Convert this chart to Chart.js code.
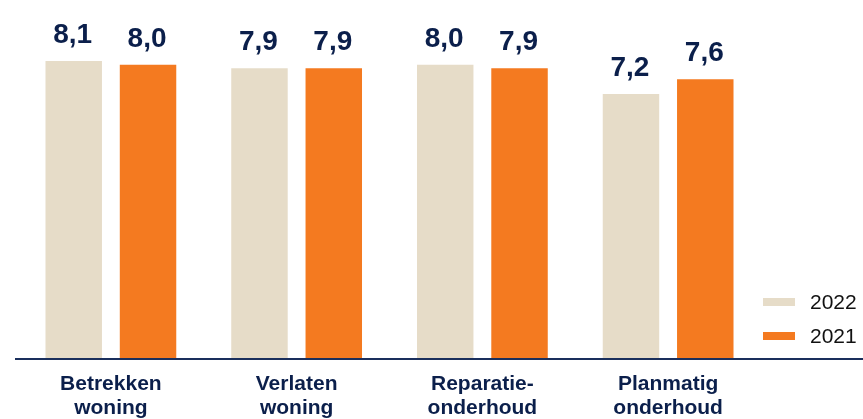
<!DOCTYPE html>
<html>
<head>
<meta charset="utf-8">
<script src="https://cdn.jsdelivr.net/npm/chart.js@4"></script>
<style>
  html, body { margin: 0; padding: 0; background: #fff; }
  #wrap { width: 863px; height: 419px; }
</style>
</head>
<body>
<div id="wrap"><canvas id="chartScores"></canvas></div>
<script>
const categories = [
    ['Betrekken', 'woning'],
    ['Verlaten', 'woning'],
    ['Reparatie-', 'onderhoud'],
    ['Planmatig', 'onderhoud']
];
const scores2022 = [8.1, 7.9, 8.0, 7.2];
const scores2021 = [8.0, 7.9, 7.9, 7.6];

const navy = '#0b1f4b';

// waarden boven de staven
const valueLabels = {
    id: 'valueLabels',
    afterDatasetsDraw(chart) {
        const ctx = chart.ctx;
        ctx.save();
        ctx.font = 'bold 28px "Liberation Sans", Arial, sans-serif';
        ctx.fillStyle = navy;
        ctx.textAlign = 'center';
        ctx.textBaseline = 'alphabetic';
        chart.data.datasets.forEach((ds, i) => {
            chart.getDatasetMeta(i).data.forEach((bar, j) => {
                const txt = ds.data[j].toFixed(1).replace('.', ',');
                ctx.fillText(txt, bar.x - 1, bar.y - 18);
            });
        });
        ctx.restore();
    }
};

// lijn over de hele breedte + legenda rechtsonder
const baseLineLegend = {
    id: 'baseLineLegend',
    afterDraw(chart) {
        const ctx = chart.ctx;
        const y = chart.chartArea.bottom + 1;
        ctx.save();
        ctx.strokeStyle = '#1a2f5c';
        ctx.lineWidth = 2;
        ctx.beginPath();
        ctx.moveTo(15, y);
        ctx.lineTo(chart.width, y);
        ctx.stroke();

        ctx.font = '21px "Liberation Sans", Arial, sans-serif';
        ctx.textBaseline = 'middle';
        ctx.textAlign = 'left';
        chart.data.datasets.forEach((ds, i) => {
            const cy = 302 + i * 34;
            ctx.fillStyle = ds.backgroundColor;
            ctx.fillRect(763, cy - 4, 32, 8);
            ctx.fillStyle = '#111';
            ctx.fillText(ds.label, 810, cy + 1);
        });
        ctx.restore();
    }
};

const ctx = document.getElementById('chartScores');
const chartScores = new Chart(ctx, {
    type: 'bar',
    data: {
        labels: categories,
        datasets: [
            {
                label: '2022',
                data: scores2022,
                backgroundColor: '#e6dcc8',
                borderWidth: 0
            },
            {
                label: '2021',
                data: scores2021,
                backgroundColor: '#f47a20',
                borderWidth: 0
            }
        ]
    },
    options: {
        responsive: true,
        maintainAspectRatio: false,
        animation: false,
        categoryPercentage: 0.8,
        barPercentage: 0.76,
        layout: {
            padding: { top: 28, left: 18, right: 102, bottom: 0 }
        },
        scales: {
            x: {
                grid: { display: false, drawTicks: false },
                border: { display: false },
                ticks: {
                    color: navy,
                    padding: 14,
                    font: { family: 'Liberation Sans', size: 21, weight: 'bold', lineHeight: 1.15 }
                },
                afterFit(scale) { scale.height = 61; }
            },
            y: {
                display: false,
                min: 0,
                max: 9
            }
        },
        plugins: {
            legend: { display: false },
            tooltip: { enabled: false }
        }
    },
    plugins: [valueLabels, baseLineLegend]
});
</script>
</body>
</html>
